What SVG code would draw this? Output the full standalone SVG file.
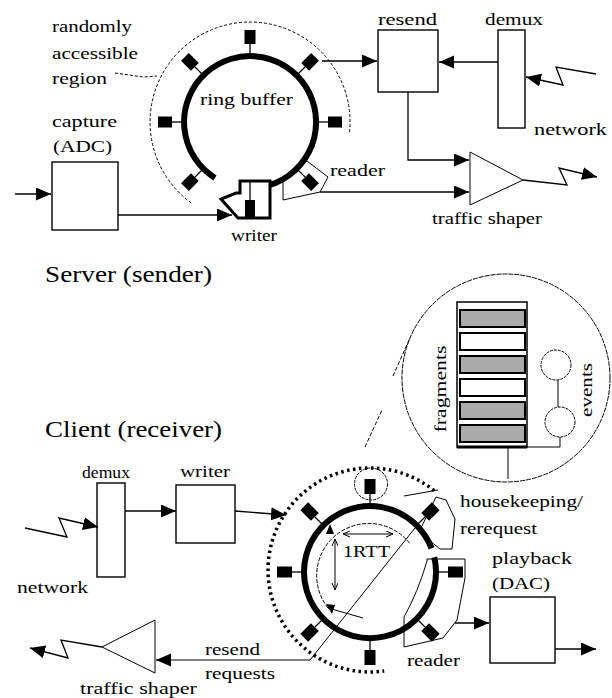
<svg xmlns="http://www.w3.org/2000/svg" width="612" height="698" viewBox="0 0 612 698">
<defs>
<style>
.ln{stroke:#000;stroke-width:1.3;fill:none}
.box{stroke:#000;stroke-width:1.4;fill:#fff}
.thin{stroke:#000;stroke-width:1;fill:none}
.ring{stroke:#000;stroke-width:6;fill:none}
.mk{fill:#000}
.t{font-family:"Liberation Serif","Times New Roman",serif;font-size:17px;fill:#000}
.big{font-family:"Liberation Serif","Times New Roman",serif;font-size:24px;fill:#000}
.bar{stroke:#000;stroke-width:2}
</style>
<marker id="ah" markerUnits="userSpaceOnUse" markerWidth="16" markerHeight="14" refX="15" refY="6.5" orient="auto">
<path d="M0,0 L15,6.5 L0,13 Z" fill="#000"/>
</marker>
<marker id="sa" markerUnits="userSpaceOnUse" markerWidth="8" markerHeight="8" refX="7" refY="3" orient="auto">
<path d="M0,0 L7,3 L0,6" fill="none" stroke="#000" stroke-width="1"/>
</marker>
<marker id="sa2" markerUnits="userSpaceOnUse" markerWidth="8" markerHeight="8" refX="0" refY="3" orient="auto">
<path d="M7,0 L0,3 L7,6" fill="none" stroke="#000" stroke-width="1"/>
</marker>
<g id="smk"><line x1="316" y1="122" x2="328" y2="122" stroke="#000" stroke-width="1.3"/><rect x="328" y="116.5" width="14" height="11"/></g>
<g id="cmk"><line x1="436" y1="572" x2="448" y2="572" stroke="#000" stroke-width="1.3"/><rect x="448" y="566.5" width="15" height="11"/></g>
</defs>
<rect width="612" height="698" fill="#fff"/>

<!-- ================= SERVER ================= -->
<g id="server-title"><text class="big" x="45" y="282" textLength="167" lengthAdjust="spacingAndGlyphs">Server (sender)</text></g>

<g id="random-region">
<path d="M191.2,202.9 A100,100 0 1 1 349.5,132.5" class="thin" stroke-dasharray="3,2"/>
<path d="M115,73 L143,77 L157,76" class="thin" stroke-dasharray="3,2"/>
<text class="t" x="52" y="32" textLength="80" lengthAdjust="spacingAndGlyphs">randomly</text>
<text class="t" x="52" y="59" textLength="86" lengthAdjust="spacingAndGlyphs">accessible</text>
<text class="t" x="52" y="84" textLength="55" lengthAdjust="spacingAndGlyphs">region</text>
</g>

<g id="server-ring">
<path d="M215,178 A66,66 0 1 1 262,187" class="ring"/>
<g class="mk">
<use href="#smk" transform="rotate(-90 250 122)"/>
<use href="#smk" transform="rotate(-135 250 122)"/>
<use href="#smk" transform="rotate(-45 250 122)"/>
<use href="#smk" transform="rotate(180 250 122)"/>
<use href="#smk" transform="rotate(0 250 122)"/>
<use href="#smk" transform="rotate(135 250 122)"/>
<use href="#smk" transform="rotate(45 250 122)"/>
</g>
<text class="t" x="200" y="105" textLength="93" lengthAdjust="spacingAndGlyphs">ring buffer</text>
</g>

<g id="capture">
<rect class="box" x="52" y="162" width="66" height="68"/>
<text class="t" x="52" y="127" textLength="65" lengthAdjust="spacingAndGlyphs">capture</text>
<text class="t" x="53" y="152" textLength="59" lengthAdjust="spacingAndGlyphs">(ADC)</text>
</g>

<g id="server-writer">
<path d="M240,181 L270,181 L270,218 L238,218 L221,199 L236,193 L240,193 Z" fill="#fff" stroke="#000" stroke-width="3"/>
<line x1="250" y1="181" x2="250" y2="200" stroke="#000" stroke-width="1.3"/>
<rect x="245" y="200" width="10" height="17" fill="#000"/>
<text class="t" x="231" y="241" textLength="46" lengthAdjust="spacingAndGlyphs">writer</text>
</g>

<g id="server-reader">
<path d="M283,182 L307,161 L328,177 L320,192 L283,200 Z" class="thin"/>
<text class="t" x="330" y="176" textLength="55" lengthAdjust="spacingAndGlyphs">reader</text>
</g>

<g id="resend">
<rect class="box" x="378" y="30" width="60" height="62"/>
<text class="t" x="378" y="25" textLength="59" lengthAdjust="spacingAndGlyphs">resend</text>
</g>

<g id="server-demux">
<rect class="box" x="498" y="30" width="27" height="98"/>
<text class="t" x="485" y="25" textLength="58" lengthAdjust="spacingAndGlyphs">demux</text>
<text class="t" x="534" y="135" textLength="73" lengthAdjust="spacingAndGlyphs">network</text>
</g>

<g id="server-shaper">
<path d="M470,152 L523,180 L470,205 Z" class="thin" fill="#fff"/>
<text class="t" x="432" y="224" textLength="110" lengthAdjust="spacingAndGlyphs">traffic shaper</text>
</g>

<g id="server-connectors">
<line class="ln" x1="15" y1="194" x2="51" y2="194" marker-end="url(#ah)"/>
<line class="ln" x1="118" y1="215" x2="232" y2="215" marker-end="url(#ah)"/>
<line class="ln" x1="322" y1="61" x2="377" y2="61" marker-end="url(#ah)"/>
<line class="ln" x1="498" y1="62" x2="439" y2="62" marker-end="url(#ah)"/>
<path class="ln" d="M596,74 L556,67 L563,85 L526,77" marker-end="url(#ah)"/>
<path class="ln" d="M408,92 L408,160 L469,160" marker-end="url(#ah)"/>
<line class="ln" x1="320" y1="192" x2="469" y2="192" marker-end="url(#ah)"/>
<path class="ln" d="M523,180 L567,185 L559,168 L597,177" marker-end="url(#ah)"/>
</g>

<!-- ================= CLIENT ================= -->
<g id="client-title"><text class="big" x="45" y="437" textLength="177" lengthAdjust="spacingAndGlyphs">Client (receiver)</text></g>

<g id="inset">
<circle cx="506" cy="378" r="104" class="thin" stroke-dasharray="5,1"/>
<rect x="457" y="302" width="70" height="145" fill="#fff" stroke="#000" stroke-width="1.5"/>
<line x1="457" y1="447" x2="527" y2="447" stroke="#000" stroke-width="3"/>
<rect class="bar" x="460" y="310" width="65" height="17" fill="#aaa"/>
<rect class="bar" x="460" y="333" width="65" height="17" fill="#fff"/>
<rect class="bar" x="460" y="356" width="65" height="17" fill="#aaa"/>
<rect class="bar" x="460" y="379" width="65" height="17" fill="#fff"/>
<rect class="bar" x="460" y="402" width="65" height="17" fill="#aaa"/>
<rect class="bar" x="460" y="425" width="65" height="17" fill="#aaa"/>
<circle cx="556" cy="365" r="15" class="thin" stroke-dasharray="3,1"/>
<circle cx="560" cy="422" r="15" class="thin" stroke-dasharray="3,1"/>
<line class="thin" x1="558" y1="380" x2="558" y2="407"/>
<path class="thin" d="M560,437 L560,447 L527,447"/>
<line class="thin" x1="508" y1="447" x2="508" y2="479"/>
<text class="t" transform="translate(446 389) rotate(-90)" x="0" y="0" text-anchor="middle" font-size="14" textLength="87" lengthAdjust="spacingAndGlyphs">fragments</text>
<text class="t" transform="translate(592 390) rotate(-90)" x="0" y="0" text-anchor="middle" font-size="14" textLength="54" lengthAdjust="spacingAndGlyphs">events</text>
<line class="thin" x1="393" y1="376" x2="410" y2="338" stroke-dasharray="4,2"/>
<line class="thin" x1="365" y1="447" x2="382" y2="410" stroke-dasharray="4,2"/>
</g>

<g id="client-demux">
<rect class="box" x="97" y="483" width="28" height="94"/>
<text class="t" x="82" y="478" textLength="48" lengthAdjust="spacingAndGlyphs">demux</text>
<text class="t" x="17" y="593" textLength="71" lengthAdjust="spacingAndGlyphs">network</text>
</g>

<g id="client-writer">
<rect class="box" x="176" y="485" width="59" height="58"/>
<text class="t" x="180" y="477" textLength="50" lengthAdjust="spacingAndGlyphs">writer</text>
</g>

<g id="client-ring">
<path d="M434.2,490.7 A102,102 0 1 0 384.2,671" fill="none" stroke="#000" stroke-width="3.5" stroke-dasharray="2.5,3.5"/>
<path d="M434.3,557.2 A66,66 0 1 1 431.6,548.4" class="ring"/>
<g class="mk">
<use href="#cmk" transform="rotate(-90 370 572)"/>
<use href="#cmk" transform="rotate(-135 370 572)"/>
<use href="#cmk" transform="rotate(-45 370 572)"/>
<use href="#cmk" transform="rotate(180 370 572)"/>
<use href="#cmk" transform="rotate(135 370 572)"/>
<use href="#cmk" transform="rotate(90 370 572)"/>
<use href="#cmk" transform="rotate(0 370 572)"/>
<use href="#cmk" transform="rotate(45 370 572)"/>
</g>
<ellipse cx="371" cy="484" rx="16.5" ry="16" class="thin" stroke-dasharray="3,1"/>
<path d="M328,608 A52,52 0 1 1 409.6,543.2" class="thin" stroke-dasharray="4,1.5"/>
<line class="thin" x1="328" y1="608" x2="363" y2="618"/>
<path d="M330,524 L326,534 L334,534 Z" fill="#000"/>
<path d="M326,604 L332,614 L335,605 Z" fill="#000"/>
<line class="thin" x1="343" y1="534" x2="393" y2="534" marker-start="url(#sa2)" marker-end="url(#sa)"/>
<line class="thin" x1="335" y1="539" x2="335" y2="590" marker-start="url(#sa2)" marker-end="url(#sa)"/>
<text class="t" x="343" y="557" font-size="19" textLength="47" lengthAdjust="spacingAndGlyphs">1RTT</text>
</g>

<g id="housekeeping">
<path d="M419,532 L436,497 L446,500 L455,519 L452,549 L440,549 Z" class="thin"/>
<line class="thin" x1="404" y1="496" x2="438" y2="490"/>
<text class="t" x="460" y="507" textLength="123" lengthAdjust="spacingAndGlyphs">housekeeping/</text>
<text class="t" x="460" y="534" textLength="77" lengthAdjust="spacingAndGlyphs">rerequest</text>
</g>

<g id="client-reader">
<path d="M427,559 L465,559 L465,578 L457,620 L443,638 L404,647 L404,617 Q418,592 427,561 Z" class="thin"/>
<text class="t" x="407" y="666" textLength="53" lengthAdjust="spacingAndGlyphs">reader</text>
</g>

<g id="playback">
<rect class="box" x="490" y="597" width="65" height="66"/>
<text class="t" x="492" y="564" textLength="80" lengthAdjust="spacingAndGlyphs">playback</text>
<text class="t" x="492" y="589" textLength="58" lengthAdjust="spacingAndGlyphs">(DAC)</text>
</g>

<g id="client-shaper">
<path d="M155,620 L102,647 L155,673 Z" class="thin" fill="#fff"/>
<text class="t" x="80" y="694" textLength="117" lengthAdjust="spacingAndGlyphs">traffic shaper</text>
<text class="t" x="205" y="655" textLength="55" lengthAdjust="spacingAndGlyphs">resend</text>
<text class="t" x="205" y="679" textLength="70" lengthAdjust="spacingAndGlyphs">requests</text>
</g>

<g id="client-connectors">
<path class="ln" d="M25,528 L67,537 L59,518 L98,527" marker-end="url(#ah)"/>
<line class="ln" x1="125" y1="511" x2="176" y2="511" marker-end="url(#ah)"/>
<line class="ln" x1="235" y1="511" x2="286" y2="515" marker-end="url(#ah)"/>
<path class="thin" d="M415,528 L310,660 L156,660" marker-end="url(#ah)"/>
<line class="ln" x1="455" y1="623" x2="489" y2="623" marker-end="url(#ah)"/>
<line class="ln" x1="555" y1="649" x2="596" y2="649" marker-end="url(#ah)"/>
<path class="ln" d="M102,647 L61,640 L68,658 L30,648" marker-end="url(#ah)"/>
</g>
</svg>
